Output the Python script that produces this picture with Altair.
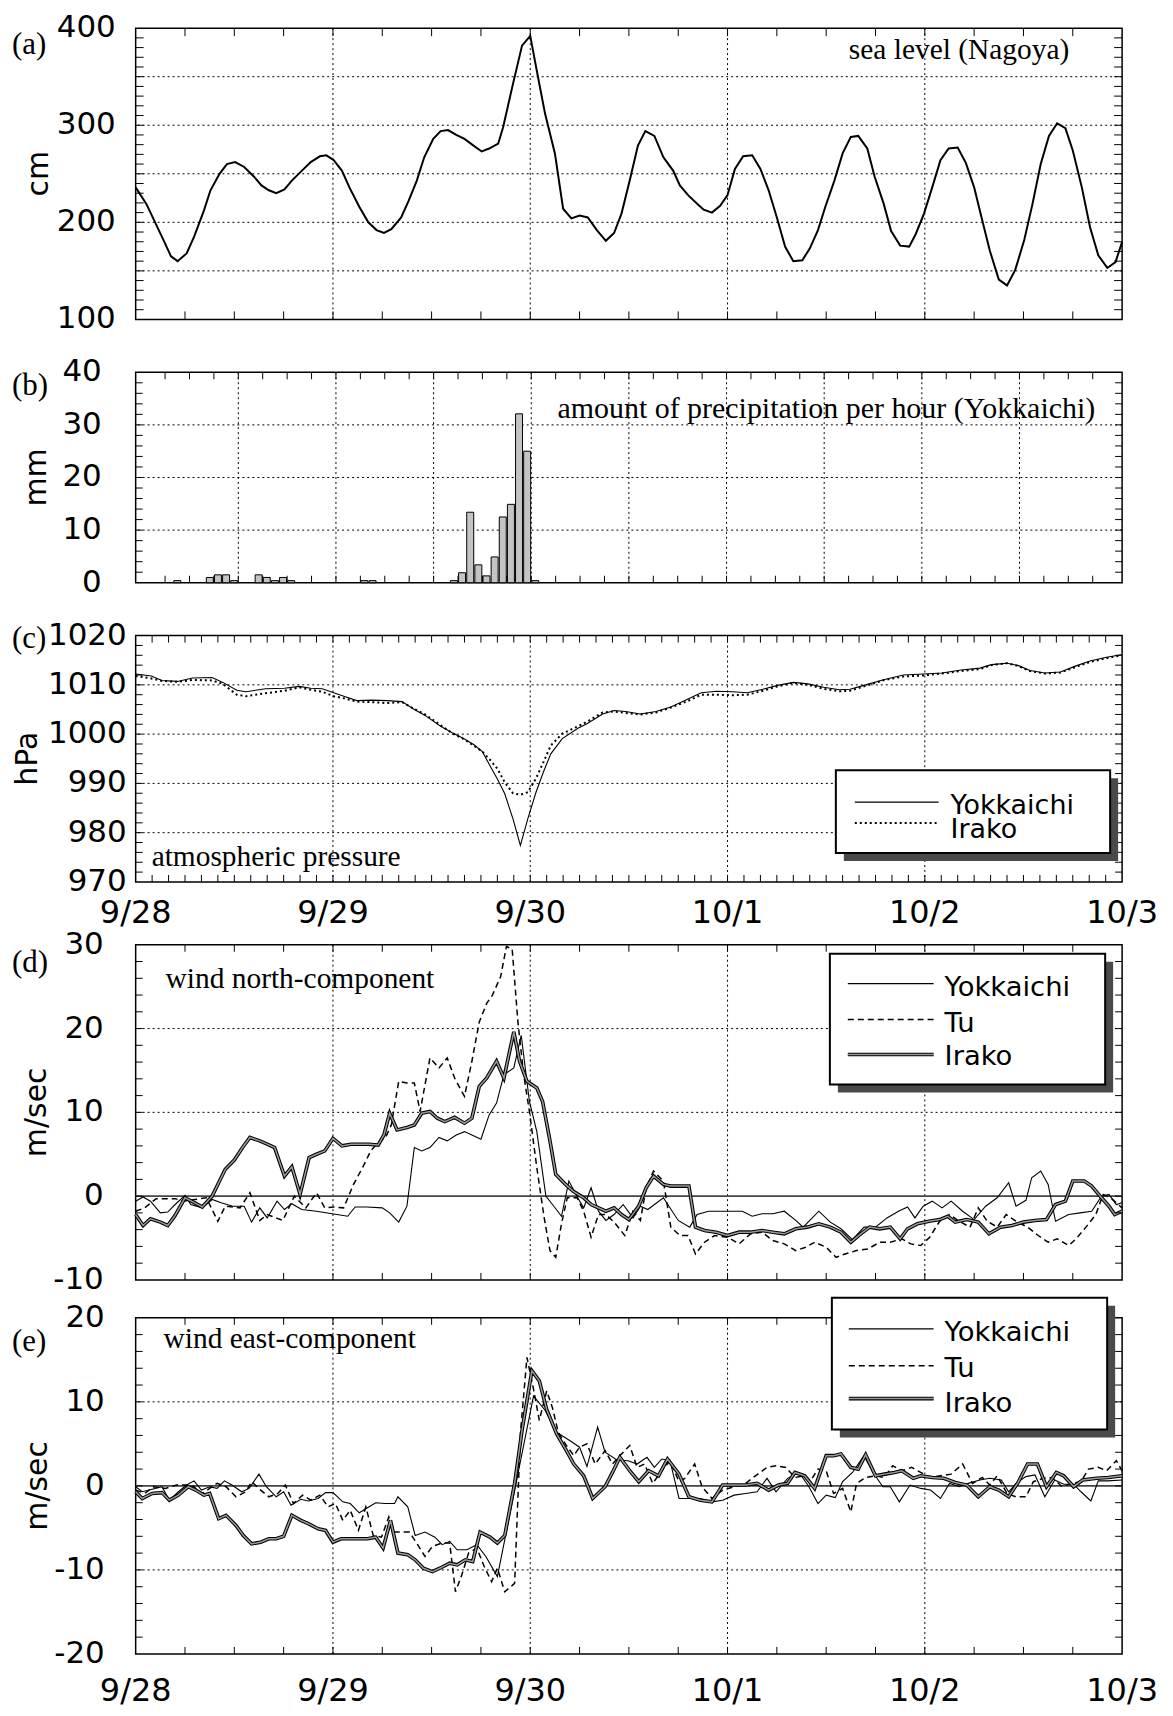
import altair as alt
import pandas as pd

# ---------------- data (hours since 9/28 00:00) ----------------
DAY_HOURS = [0, 24, 48, 72, 96, 120]
DAY_LABELS = ["9/28", "9/29", "9/30", "10/1", "10/2", "10/3"]

# y tick labels of each panel
A_YLAB = [100, 200, 300, 400]
B_YLAB = [0, 10, 20, 30, 40]
C_YLAB = [970, 980, 990, 1000, 1010, 1020]
D_YLAB = [-10, 0, 10, 20, 30]
E_YLAB = [-20, -10, 0, 10, 20]

# (a) sea level, Nagoya [cm]
SL_HOUR = [0, 1.3, 3.2, 4.3, 5.1, 6.2, 7.1, 8.3, 9.1, 10.2, 11.1, 12.1, 13.2, 14.4, 15.3, 16.2, 17.1, 18.1, 19, 20.2,
           21.3, 22.4, 23.2, 24.1, 25.1, 26, 27.2, 28.3, 29.3, 30.2, 31.1, 32.3, 33.2, 34.2, 35.1, 36.2, 37.1, 38, 39, 40,
           41.1, 42.1, 43, 44.1, 44.7, 45.8, 47, 48, 48.8, 49.8, 51, 52, 53, 54, 55, 56.1, 57.2, 58.2, 59.1, 60.1,
           61.1, 62, 63.1, 64.2, 65.4, 66.2, 67.2, 68.2, 69.1, 70.1, 71.1, 72, 72.9, 73.9, 75, 76, 77, 78, 79, 80,
           81.1, 82, 83, 83.9, 85, 86, 87, 87.9, 89, 89.9, 91, 91.9, 93, 94.1, 94.9, 95.9, 96.9, 97.9, 98.9, 100,
           101, 102, 102.9, 103.9, 105, 106, 107, 108.1, 109.1, 110.1, 111.1, 112.1, 113.1, 114, 115.1, 116.1, 117.1,
           118.2, 119.2, 120]
SL_CM = [236, 219, 185, 165, 160, 168, 185, 212, 233, 250, 260, 262, 257, 247, 238, 233, 230, 234, 243, 253,
         262, 268, 269, 264, 253, 236, 216, 200, 192, 189, 193, 205, 222, 243, 267, 286, 294, 295, 290, 286,
         279, 273, 276, 281, 298, 339, 382, 392, 356, 312, 271, 214, 204, 207, 205, 192, 181, 189, 209, 243,
         279, 294, 289, 267, 253, 238, 228, 220, 213, 210, 217, 228, 255, 268, 269, 255, 233, 205, 175, 160,
         161, 173, 192, 216, 243, 271, 288, 289, 276, 247, 219, 191, 176, 175, 188, 209, 236, 264, 276, 277,
         261, 236, 205, 171, 141, 135, 151, 182, 219, 260, 289, 302, 297, 274, 236, 195, 166,
         153, 159, 180]

# (b) hourly precipitation, Yokkaichi [mm]  (hour in which it fell)
PR_HOUR = [4, 8, 9, 10, 11, 14, 15, 16, 17, 18, 27, 28, 38, 39, 40, 41, 42, 43, 44, 45, 46, 47, 48]
PR_MM = [0.4, 1.0, 1.5, 1.5, 0.4, 1.5, 1.0, 0.4, 1.0, 0.4, 0.4, 0.4, 0.4, 1.9, 13.4, 3.4, 1.3, 4.9, 12.5, 14.9,
         32.1, 25.0, 0.4]

# (c) atmospheric pressure [hPa]
P_HOUR = [0.0, 1.9, 3.2, 5.1, 6.9, 9.3, 10.6, 12.3, 13.4, 15.8, 18.1, 19.9, 21.3, 22.7, 24.1, 25.5, 26.9, 28.7, 30.6,
          32.4, 33.8, 35.2, 37.1, 38.5, 39.9, 41.2, 42.2, 43.1, 44.0, 44.9, 45.9, 46.8, 47.7, 48.7, 49.6, 50.5, 51.9,
          53.8, 54.9, 56.8, 58.2, 59.6, 61.4, 63.3, 65.1, 67.0, 68.8, 70.7, 72.6, 74.4, 76.3, 78.1, 80.0, 81.8, 83.7,
          85.6, 86.9, 88.8, 91.1, 93.4, 95.8, 98.1, 100.4, 102.7, 104.1, 106.0, 107.4, 108.8, 110.6, 112.5, 114.3,
          116.2, 118.1, 119.9]
P_YOKKAICHI = [1012.2, 1011.8, 1010.9, 1010.7, 1011.4, 1011.5, 1010.5, 1008.9, 1008.6, 1009.2, 1009.3, 1009.7,
               1009.3, 1009.2, 1008.4, 1007.6, 1006.8, 1006.9, 1006.8, 1006.6, 1005.1, 1003.8, 1001.6, 1000.3, 999.1,
               997.8, 996.4, 993.6, 990.9, 987.9, 982.8, 977.4, 982.8, 988.2, 992.3, 996.0, 999.1, 1001.2, 1002.1,
               1004.1, 1004.8, 1004.6, 1004.1, 1004.6, 1005.5, 1007.0, 1008.4, 1008.7, 1008.6, 1008.4, 1009.1, 1009.9,
               1010.5, 1010.2, 1009.5, 1009.0, 1009.1, 1010.0, 1011.1, 1012.0, 1012.2, 1012.4, 1013.0, 1013.4, 1014.1,
               1014.4, 1013.9, 1012.9, 1012.4, 1012.6, 1013.8, 1014.9, 1015.6, 1016.1]
P_IRAKO = [1011.8, 1011.3, 1010.8, 1010.6, 1011.0, 1010.9, 1010.2, 1008.0, 1007.7, 1008.3, 1008.8, 1009.5, 1009.0,
           1008.6, 1007.7, 1007.2, 1006.6, 1006.5, 1006.3, 1006.5, 1005.2, 1004.0, 1001.8, 1000.2, 999.0, 997.6,
           996.4, 994.8, 993.0, 990.2, 988.0, 987.7, 988.2, 991.0, 994.3, 997.7, 1000.1, 1001.6, 1002.5, 1004.4,
           1004.6, 1004.3, 1004.0, 1004.4, 1005.4, 1006.6, 1008.0, 1008.0, 1007.9, 1008.0, 1008.8, 1009.7, 1010.4,
           1010.0, 1009.2, 1008.7, 1008.8, 1009.8, 1011.0, 1011.7, 1011.9, 1012.3, 1012.8, 1013.2, 1014.0, 1014.4,
           1013.8, 1012.8, 1012.3, 1012.5, 1013.6, 1014.7, 1015.4, 1016.0]

# (d) wind north-component [m/sec]
N_YOK_HOUR = [0.0, 0.9, 1.8, 3.0, 3.9, 4.8, 6.0, 6.7, 8.1, 9.3, 10.4, 11.8, 13.2, 14.1, 15.1, 16.0, 17.2, 18.1, 19.0,
              20.2, 22.0, 23.9, 25.8, 26.7, 28.1, 30.0, 30.9, 32.0, 33.0, 33.9, 34.8, 35.8, 36.9, 37.9, 39.0, 40.0,
              40.9, 42.0, 43.0, 43.9, 44.8, 46.0, 46.9, 47.9, 48.8, 49.9, 50.7, 51.8, 52.7, 53.9, 54.5, 55.4, 56.3,
              57.2, 58.2, 59.3, 60.5, 61.4, 62.3, 64.2, 66.0, 67.4, 68.3, 69.7, 71.0, 72.5, 73.8, 75.0, 76.2, 77.5,
              78.9, 80.3, 81.2, 83.1, 84.5, 85.8, 87.2, 88.6, 90.0, 91.4, 92.8, 93.9, 94.8, 95.8, 96.9, 98.1, 99.2,
              100.6, 102.0, 103.4, 104.8, 106.2, 107.1, 108.3, 109.0, 110.1, 111.0, 111.9, 113.5, 114.9, 116.3,
              117.5, 118.4, 119.3, 120.0]
N_YOK = [-0.6, -0.1, -0.6, -2.0, -1.9, -1.0, 0.1, -1.0, -1.4, -0.4, -0.8, -1.2, -1.2, -3.1, -1.4, -2.6, -0.6, -1.6,
         -0.9, -1.6, -1.8, -2.1, -2.4, -1.3, -1.3, -1.4, -2.0, -3.1, -1.2, 5.8, 5.4, 5.8, 7.0, 6.6, 7.3, 7.7, 7.3,
         6.8, 9.7, 11.1, 14.5, 15.3, 19.2, 11.3, 7.7, 0.0, -1.0, -2.4, 1.8, -0.4, -1.4, 1.0, -1.8, -2.9, -2.2, -1.0,
         -2.6, -1.2, -1.6, -0.2, -2.9, -3.7, -2.2, -1.8, -1.8, -1.8, -1.8, -2.4, -2.1, -2.1, -1.8, -2.9, -3.7, -1.8,
         -3.1, -3.9, -5.2, -3.7, -3.7, -2.6, -1.8, -1.3, -2.6, -1.2, -0.6, -1.4, -0.6, -1.8, -2.8, -1.2, -0.2, 1.6,
         -1.2, -0.5, 2.2, 3.0, 1.4, -3.0, -2.2, -2.0, -1.8, 0.0, 0.2, -1.0, -0.8]
N_TU_HOUR = [0.0, 1.1, 2.5, 3.9, 4.8, 5.8, 7.2, 8.6, 10.0, 10.9, 12.7, 13.9, 15.1, 16.0, 17.9, 19.3, 20.7, 22.0, 23.0,
             24.1, 25.3, 26.5, 27.6, 28.6, 29.5, 30.4, 31.1, 32.0, 33.0, 33.9, 34.6, 35.8, 36.9, 37.9, 38.8, 40.0,
             40.9, 41.8, 42.7, 43.4, 44.4, 45.1, 45.8, 46.5, 47.2, 47.9, 48.8, 49.7, 50.4, 51.1, 51.8, 52.5, 53.7,
             54.5, 55.4, 56.3, 57.2, 58.2, 59.5, 60.5, 61.4, 62.1, 63.0, 64.2, 65.1, 66.2, 67.2, 68.1, 69.2, 70.4,
             72.0, 73.4, 74.8, 76.2, 77.5, 78.9, 80.3, 81.5, 82.6, 84.0, 85.2, 86.3, 87.7, 89.1, 90.5, 91.8, 93.2,
             94.3, 95.5, 96.6, 97.8, 99.0, 100.2, 101.5, 102.5, 103.6, 104.8, 105.9, 107.1, 108.5, 109.8, 111.0,
             112.1, 113.5, 114.4, 115.6, 116.8, 117.7, 118.6, 120.0]
N_TU = [-1.8, -1.4, -0.3, -0.3, -0.3, -0.6, -0.4, -0.2, -3.0, -1.2, -1.4, 0.4, -2.9, -2.2, -2.9, 0.0, -1.4, 0.4,
        -1.4, -1.3, -1.4, 1.4, 3.4, 5.4, 6.4, 7.0, 8.5, 13.7, 13.5, 13.5, 10.1, 16.5, 15.3, 16.5, 14.1, 11.9, 16.1,
        20.8, 23.0, 24.0, 26.2, 29.8, 29.5, 20.8, 14.5, 10.1, 3.4, -2.6, -6.5, -7.3, -3.3, -0.2, -0.2, -1.8, -4.9,
        -2.2, -2.2, -3.1, -4.7, -1.8, -2.9, 1.0, 3.0, 1.8, -3.7, -4.7, -4.7, -6.9, -5.5, -4.7, -4.9, -5.7, -4.5,
        -4.3, -5.3, -5.7, -6.5, -6.1, -5.5, -6.1, -7.3, -6.9, -6.5, -6.3, -5.5, -5.5, -5.1, -5.7, -5.9, -4.9, -3.0,
        -2.2, -3.0, -3.7, -1.4, -3.0, -3.7, -2.2, -3.0, -3.7, -4.7, -5.5, -5.1, -5.9, -5.1, -3.7, -2.2, 0.2, -0.2,
        -1.4]
N_IRA_HOUR = [0.0, 0.9, 1.8, 3.0, 3.9, 4.8, 6.0, 7.2, 8.1, 9.3, 10.2, 10.9, 12.0, 13.0, 13.9, 15.1, 16.0, 16.9, 18.1,
              19.0, 20.0, 21.1, 22.0, 23.0, 24.0, 25.1, 26.2, 27.4, 28.3, 29.5, 30.2, 30.9, 31.8, 33.0, 33.9, 34.8,
              35.8, 36.7, 37.6, 38.8, 40.0, 40.9, 41.8, 42.7, 43.9, 44.8, 46.0, 46.7, 47.6, 48.8, 49.5, 50.4, 51.1,
              52.3, 53.2, 54.5, 55.4, 57.2, 58.2, 59.1, 60.0, 61.2, 62.1, 63.0, 64.2, 65.1, 66.2, 67.3, 68.1, 69.2,
              70.6, 72.0, 73.4, 74.8, 76.2, 77.5, 78.9, 80.3, 81.7, 83.1, 84.5, 85.8, 87.0, 88.2, 89.3, 90.5, 91.8,
              93.0, 93.9, 95.1, 96.5, 97.8, 98.8, 99.7, 101.1, 102.5, 103.8, 105.2, 106.6, 108.0, 109.4, 110.8,
              111.9, 113.1, 114.0, 115.4, 116.3, 117.5, 118.4, 119.1, 120.0]
N_IRA = [-2.2, -3.5, -2.7, -3.1, -3.5, -2.3, -0.2, -0.8, -1.3, 0.0, 1.8, 3.2, 4.3, 5.8, 7.0, 6.6, 6.2, 5.8, 2.4, 3.5,
         0.2, 4.6, 5.0, 5.4, 6.9, 6.0, 6.2, 6.2, 6.2, 6.1, 7.3, 9.9, 7.9, 8.2, 8.5, 9.9, 10.1, 9.3, 8.9, 9.4, 8.7,
         9.3, 13.1, 14.1, 16.1, 14.1, 19.6, 16.1, 13.7, 12.9, 11.3, 6.6, 2.6, 1.4, 0.6, -0.2, -1.0, -1.8, -1.4, -2.2,
         -2.8, -1.2, 1.0, 2.4, 1.4, 1.2, 1.2, 1.2, -3.7, -4.1, -4.3, -4.7, -4.3, -4.3, -4.1, -4.3, -4.5, -3.9, -3.7,
         -3.3, -3.7, -4.3, -5.5, -4.5, -3.7, -3.9, -3.7, -5.1, -3.9, -3.3, -3.0, -2.8, -2.4, -3.1, -2.8, -3.1, -4.5,
         -3.7, -3.5, -3.1, -2.9, -2.8, -1.0, -0.6, 1.8, 1.8, 1.2, -0.2, -1.2, -2.2, -1.8]

# (e) wind east-component [m/sec]
E_YOK_HOUR = [0.0, 0.8, 2.0, 3.2, 4.1, 5.2, 6.2, 7.1, 8.0, 9.0, 9.9, 10.8, 11.7, 12.9, 13.8, 15.0, 15.9, 17.1, 18.0,
              18.9, 20.1, 21.0, 22.2, 23.1, 24.0, 25.2, 26.1, 27.2, 28.2, 29.2, 30.3, 31.5, 31.9, 33.1, 34.0, 35.2,
              36.4, 37.3, 38.2, 39.1, 40.3, 41.5, 42.6, 44.0, 48.4, 49.8, 51.2, 52.8, 54.0, 54.9, 56.2, 57.1, 58.5,
              59.9, 61.0, 62.2, 63.1, 64.0, 65.0, 66.1, 67.3, 68.7, 70.1, 71.4, 72.8, 74.2, 75.6, 76.8, 77.9, 79.3,
              80.7, 81.9, 83.0, 84.0, 85.1, 86.0, 87.2, 88.6, 89.7, 90.9, 91.8, 92.9, 94.2, 95.5, 96.7, 97.9, 99.0,
              100.2, 101.3, 102.7, 103.9, 105.3, 106.2, 107.1, 108.3, 109.4, 110.6, 111.8, 112.9, 114.1, 115.0,
              116.2, 117.1, 118.2, 120.0]
E_YOK = [-0.1, -0.7, -0.4, -0.1, -1.7, -0.7, 0.1, 0.6, -0.5, -0.1, -0.3, 0.6, 0.1, -0.7, -0.3, 1.4, -0.1, -1.3, -0.7,
         -2.3, -1.6, -1.8, -1.5, -0.8, -0.8, -1.9, -2.1, -3.2, -2.6, -2.0, -2.1, -2.1, -1.3, -2.5, -5.9, -5.5, -6.1,
         -7.0, -6.6, -7.6, -7.6, -7.0, -8.4, -10.8, 10.7, 9.0, 6.4, 5.4, 4.6, 2.3, 7.0, 4.0, 3.1, 3.0, 2.6, 3.4,
         2.2, 3.2, 3.0, -1.5, -1.5, -1.5, -1.9, -1.7, -1.1, -0.9, -0.7, 0.9, -0.7, 0.9, 1.6, -0.1, -2.1, -1.1, -1.4,
         0.5, 1.6, 3.6, 1.6, -0.1, -0.1, -1.9, 0.1, -0.3, -0.5, -1.5, 0.3, -0.1, 0.3, 0.7, 0.9, 0.7, -0.7, 0.3, 1.1,
         1.3, -1.3, 0.7, 0.2, 0.2, -0.7, -1.8, 0.6, 0.6, 0.7]
E_TU_HOUR = [0.0, 1.1, 2.2, 3.6, 5.0, 6.2, 7.1, 8.0, 9.0, 9.9, 11.0, 12.2, 13.4, 14.1, 15.2, 16.2, 17.3, 18.2, 19.2,
             20.3, 21.3, 22.4, 23.4, 24.3, 25.2, 26.1, 27.1, 28.0, 28.9, 29.9, 30.8, 31.5, 32.4, 33.3, 34.3, 35.2,
             36.1, 37.3, 38.2, 38.9, 39.6, 40.5, 41.5, 42.4, 43.3, 44.0, 44.9, 46.1, 46.8, 47.6, 48.4, 49.1, 50.0,
             50.7, 51.4, 52.4, 53.3, 54.0, 54.9, 55.9, 57.1, 58.0, 58.9, 60.1, 61.0, 61.9, 62.9, 64.0, 65.0, 66.1,
             66.8, 68.0, 68.9, 70.1, 71.4, 72.8, 74.2, 75.4, 76.8, 77.9, 79.1, 80.2, 81.2, 82.1, 83.0, 84.0, 84.9,
             86.0, 87.0, 87.7, 88.8, 90.0, 91.1, 92.1, 93.2, 94.4, 95.5, 96.7, 97.9, 99.2, 100.6, 101.8, 103.0,
             103.9, 104.8, 106.0, 107.1, 108.3, 109.2, 110.4, 111.5, 112.7, 113.8, 115.0, 115.9, 117.1, 118.1,
             119.3, 120.0]
E_TU = [-0.5, -0.9, -0.1, -0.3, 0.1, 0.1, -0.1, -1.0, -0.3, 0.3, -0.1, -1.3, -0.7, 0.5, -0.5, -1.3, -0.9, 0.1, -2.1,
        -1.1, -1.7, -1.1, -2.5, -2.1, -4.1, -2.9, -5.3, -2.5, -5.9, -6.1, -3.7, -5.5, -5.5, -5.5, -7.0, -8.4, -7.2,
        -6.8, -6.8, -12.6, -10.8, -8.0, -7.4, -9.6, -11.4, -9.8, -12.6, -11.6, 6.2, 15.3, 11.5, 7.8, 11.3, 9.3, 6.4,
        4.8, 3.6, 4.6, 5.0, 2.6, 4.2, 2.6, 3.6, 4.8, 2.2, 2.6, 0.3, 1.8, 3.0, 0.5, 0.9, 2.6, -0.1, -1.5, -0.5, -0.1,
        0.3, 1.2, 2.2, 2.4, 2.2, 1.0, 1.2, 0.6, 2.0, 1.8, -0.9, -0.3, -3.1, 0.3, 1.0, 1.2, 1.0, 2.4, 1.8, 2.2, 1.6,
        1.0, 1.2, 1.4, 2.6, 0.3, 1.0, 0.1, 1.2, -0.9, -1.3, -1.3, 0.5, 0.9, 1.0, -0.1, 0.3, 0.5, 2.0, 2.2, 1.8,
        3.0, 1.8]
E_IRA_HOUR = [0.0, 0.8, 2.0, 3.2, 4.1, 5.2, 6.4, 7.3, 8.3, 9.0, 10.1, 11.0, 12.2, 13.1, 14.1, 15.2, 16.2, 17.1, 18.0,
              19.0, 20.1, 21.0, 22.2, 23.1, 24.0, 25.0, 25.9, 27.1, 28.2, 29.2, 30.1, 31.0, 31.9, 33.1, 34.0, 35.0,
              36.1, 37.0, 38.2, 39.1, 40.1, 41.0, 41.9, 43.1, 44.0, 44.9, 46.1, 47.0, 48.2, 49.1, 50.0, 51.2, 52.4,
              53.3, 54.5, 55.6, 57.1, 58.0, 58.9, 60.1, 61.2, 62.4, 63.6, 64.7, 66.1, 67.3, 68.7, 70.1, 71.4, 72.8,
              74.2, 75.6, 77.0, 78.2, 79.3, 80.2, 81.4, 82.6, 84.0, 84.9, 85.8, 87.0, 87.9, 88.8, 90.0, 91.1, 92.3,
              93.2, 94.6, 95.5, 96.9, 98.3, 99.7, 101.1, 102.5, 103.9, 105.0, 106.2, 107.4, 108.5, 109.7, 110.8,
              112.0, 112.9, 114.1, 115.2, 116.9, 118.3, 120.0]
E_IRA = [-0.7, -1.5, -0.9, -0.8, -1.7, -1.1, -0.1, -0.5, -1.1, -0.9, -3.9, -3.5, -4.7, -5.9, -6.9, -6.7, -6.3, -6.3,
         -6.0, -3.5, -4.1, -4.5, -5.1, -5.3, -6.7, -6.3, -6.3, -6.3, -6.3, -6.1, -7.4, -4.1, -8.0, -8.2, -8.8, -9.8,
         -10.2, -9.8, -9.2, -9.4, -8.8, -9.0, -5.5, -6.1, -6.8, -5.9, 0.3, 6.6, 13.7, 12.5, 9.1, 6.2, 4.2, 2.6, 1.2,
         -1.5, -0.1, 1.6, 3.4, 1.8, 0.5, 1.8, 1.2, 3.2, 1.4, -1.3, -1.7, -1.9, 0.1, 0.1, 0.1, 0.3, -0.5, 0.1, 0.3,
         1.6, 1.2, -0.3, 3.6, 3.6, 3.8, 2.2, 2.0, 3.7, 1.2, 1.4, 1.6, 1.8, 0.9, 1.2, 1.0, 0.9, 0.4, 0.1, -1.3, -0.1,
         -0.5, -1.3, 0.5, 2.6, 2.6, -0.1, 1.6, 1.2, -0.1, 0.7, 0.9, 1.0, 1.2]

# ---------------- styling helpers ----------------
TICKFONT = "DejaVu Sans"
SERIF = "Liberation Serif"
W = 989
X_SCALE = alt.Scale(domain=[0, 120], nice=False, zero=False)
ONE = alt.Data(values=[{"k": 0}])


def xe(field):
    return alt.X(field, type="quantitative", scale=X_SCALE, axis=None)


def ye(field, scale):
    return alt.Y(field, type="quantitative", scale=scale, axis=None)


def grid_layers(xg, yg, yscale):
    kw = dict(color="black", strokeWidth=1, strokeDash=[2, 3])
    return [
        alt.Chart(pd.DataFrame({"g": xg})).mark_rule(**kw).encode(x=xe("g")),
        alt.Chart(pd.DataFrame({"g": yg})).mark_rule(**kw).encode(y=ye("g", yscale)),
    ]


def tick_layers(xt, yt, yscale, H, L=8):
    xdf = pd.DataFrame({"t": xt})
    ydf = pd.DataFrame({"v": yt})
    r = dict(color="black", strokeWidth=1)
    return [
        alt.Chart(xdf).mark_rule(**r).encode(x=xe("t"), y=alt.value(0), y2=alt.value(L)),
        alt.Chart(xdf).mark_rule(**r).encode(x=xe("t"), y=alt.value(H - L), y2=alt.value(H)),
        alt.Chart(ydf).mark_rule(**r).encode(y=ye("v", yscale), x=alt.value(0), x2=alt.value(L)),
        alt.Chart(ydf).mark_rule(**r).encode(y=ye("v", yscale), x=alt.value(W - L), x2=alt.value(W)),
    ]


def ylabel_layers(vals, yscale, pad, title, title_x, H):
    df = pd.DataFrame({"v": vals, "lab": [str(v) for v in vals]})
    return [
        alt.Chart(df).mark_text(font=TICKFONT, fontSize=31, align="right", baseline="middle",
                                color="black").encode(y=ye("v", yscale), x=alt.value(-pad), text="lab:N"),
        alt.Chart(ONE).mark_text(font=TICKFONT, fontSize=30, angle=270, align="center", baseline="middle",
                                 color="black").encode(x=alt.value(title_x), y=alt.value(H / 2),
                                                       text=alt.value(title)),
    ]


def xlabel_layer(H, off):
    df = pd.DataFrame({"h": DAY_HOURS, "lab": DAY_LABELS})
    return alt.Chart(df).mark_text(font=TICKFONT, fontSize=32, align="center", baseline="top",
                                   color="black").encode(x=xe("h"), y=alt.value(H + off), text="lab:N")


def line_layer(hours, vals, yscale, style):
    df = pd.DataFrame({"hour": hours, "v": vals})
    enc = dict(x=xe("hour"), y=ye("v", yscale))
    if style == "thick":
        return [alt.Chart(df).mark_line(color="black", strokeWidth=3.6).encode(**enc),
                alt.Chart(df).mark_line(color="#9a9a9a", strokeWidth=1.5).encode(**enc)]
    if style == "dash":
        return [alt.Chart(df).mark_line(color="black", strokeWidth=1.5, strokeDash=[6, 4]).encode(**enc)]
    if style == "dot":
        return [alt.Chart(df).mark_line(color="black", strokeWidth=2, strokeDash=[2, 3]).encode(**enc)]
    if style == "bold":
        return [alt.Chart(df).mark_line(color="black", strokeWidth=2).encode(**enc)]
    return [alt.Chart(df).mark_line(color="black", strokeWidth=1.1).encode(**enc)]


def text_layer(txt, x, y, font=SERIF, size=29.5, align="left", baseline="alphabetic"):
    return alt.Chart(ONE).mark_text(font=font, fontSize=size, align=align, baseline=baseline,
                                    color="black").encode(x=alt.value(x), y=alt.value(y), text=alt.value(txt))


def legend_layers(x0, x1, y0, y1, entries, lx0, lx1, tx, size=27.5):
    out = [
        alt.Chart(ONE).mark_rect(fill="#4a4a4a").encode(
            x=alt.value(x0 + 8), x2=alt.value(x1 + 8), y=alt.value(y0 + 8), y2=alt.value(y1 + 8)),
        alt.Chart(ONE).mark_rect(fill="white", stroke="black", strokeWidth=2).encode(
            x=alt.value(x0), x2=alt.value(x1), y=alt.value(y0), y2=alt.value(y1)),
    ]
    for label, style, ly, ty in entries:
        pos = dict(x=alt.value(lx0), x2=alt.value(lx1), y=alt.value(ly))
        if style == "thick":
            out.append(alt.Chart(ONE).mark_rule(color="black", strokeWidth=3.6).encode(**pos))
            out.append(alt.Chart(ONE).mark_rule(color="#9a9a9a", strokeWidth=1.5).encode(**pos))
        else:
            kw = dict(color="black", strokeWidth=1.2)
            if style == "dash":
                kw.update(strokeDash=[6, 4], strokeWidth=1.5)
            if style == "dot":
                kw.update(strokeDash=[2, 3], strokeWidth=2)
            out.append(alt.Chart(ONE).mark_rule(**kw).encode(**pos))
        out.append(text_layer(label, tx, ty, font=TICKFONT, size=size))
    return out


def zero_layer(yscale):
    return alt.Chart(pd.DataFrame({"z": [0]})).mark_rule(color="#444444", strokeWidth=1.6).encode(
        y=ye("z", yscale))


INNER_DAYS = [24, 48, 72, 96]
PANEL_X = -124

# ---------------- (a) sea level ----------------
HA = 292
YA = alt.Scale(domain=[100, 400], nice=False, zero=False)
panel_a = alt.layer(
    *grid_layers(INNER_DAYS, [150, 200, 250, 300, 350], YA),
    *line_layer(SL_HOUR, SL_CM, YA, "bold"),
    *tick_layers(list(range(6, 120, 6)), list(range(110, 400, 10)), YA, HA),
    *ylabel_layers(A_YLAB, YA, 20, "cm", -97, HA),
    text_layer("sea level (Nagoya)", 936, 31, align="right"),
    text_layer("(a)", PANEL_X, 17, size=31, baseline="middle"),
).properties(width=W, height=HA)

# ---------------- (b) precipitation ----------------
HB = 211
YB = alt.Scale(domain=[0, 40], nice=False, zero=True)
pr_df = pd.DataFrame({"hour": PR_HOUR, "mm": PR_MM})
bars = alt.Chart(pr_df).transform_calculate(mid="datum.hour + 0.5").mark_bar(
    size=7, fill="#c4c4c4", stroke="black", strokeWidth=1).encode(x=xe("mid"), y=ye("mm", YB))
panel_b = alt.layer(
    *grid_layers(list(range(12, 120, 12)), [10, 20, 30], YB),
    bars,
    *tick_layers(list(range(3, 120, 3)), list(range(2, 40, 2)), YB, HB, L=7),
    *ylabel_layers(B_YLAB, YB, 34, "mm", -99, HB),
    text_layer("amount of precipitation per hour (Yokkaichi)", 962, 46, size=30, align="right"),
    text_layer("(b)", PANEL_X, 14, size=31, baseline="middle"),
).properties(width=W, height=HB)

# ---------------- (c) pressure ----------------
HC = 247
YC = alt.Scale(domain=[970, 1020], nice=False, zero=False)
panel_c = alt.layer(
    *grid_layers(INNER_DAYS, [980, 990, 1000, 1010], YC),
    *line_layer(P_HOUR, P_YOKKAICHI, YC, "solid"),
    *line_layer(P_HOUR, P_IRAKO, YC, "dot"),
    *tick_layers(list(range(2, 120, 2)), list(range(972, 1020, 2)), YC, HC, L=7),
    *ylabel_layers(C_YLAB, YC, 9, "hPa", -108, HC),
    xlabel_layer(HC, 16),
    *legend_layers(702, 977, 135, 218,
                   [("Yokkaichi", "solid", 167, 179), ("Irako", "dot", 188, 203)], 721, 805, 817, size=27),
    text_layer("atmospheric pressure", 16, 231),
    text_layer("(c)", PANEL_X, 3, size=31, baseline="middle"),
).properties(width=W, height=HC)

# ---------------- (d) wind north ----------------
HD = 336
YD = alt.Scale(domain=[-10, 30], nice=False, zero=False)
panel_d = alt.layer(
    *grid_layers(INNER_DAYS, [10, 20], YD),
    zero_layer(YD),
    *line_layer(N_YOK_HOUR, N_YOK, YD, "solid"),
    *line_layer(N_TU_HOUR, N_TU, YD, "dash"),
    *line_layer(N_IRA_HOUR, N_IRA, YD, "thick"),
    *tick_layers(list(range(6, 120, 6)), list(range(-8, 30, 2)), YD, HD, L=7),
    *ylabel_layers(D_YLAB, YD, 32, "m/sec", -99, HD),
    *legend_layers(696, 972, 9, 140,
                   [("Yokkaichi", "solid", 39, 51), ("Tu", "dash", 75, 87), ("Irako", "thick", 110, 121)],
                   714, 800, 811),
    text_layer("wind north-component", 30, 43),
    text_layer("(d)", PANEL_X, 18, size=31, baseline="middle"),
).properties(width=W, height=HD)

# ---------------- (e) wind east ----------------
HE = 337
YE = alt.Scale(domain=[-20, 20], nice=False, zero=False)
panel_e = alt.layer(
    *grid_layers(INNER_DAYS, [-10, 10], YE),
    zero_layer(YE),
    *line_layer(E_YOK_HOUR, E_YOK, YE, "solid"),
    *line_layer(E_TU_HOUR, E_TU, YE, "dash"),
    *line_layer(E_IRA_HOUR, E_IRA, YE, "thick"),
    *tick_layers(list(range(6, 120, 6)), list(range(-18, 20, 2)), YE, HE, L=7),
    *ylabel_layers(E_YLAB, YE, 31, "m/sec", -98, HE),
    xlabel_layer(HE, 22),
    *legend_layers(698, 974, -20, 112,
                   [("Yokkaichi", "solid", 11, 23), ("Tu", "dash", 48, 59), ("Irako", "thick", 81, 94)],
                   715, 800, 811),
    text_layer("wind east-component", 28, 30),
    text_layer("(e)", PANEL_X, 24, size=31, baseline="middle"),
).properties(width=W, height=HE)


def spacer(h):
    return alt.Chart(alt.Data(values=[{"s": 0}])).mark_point(opacity=0).encode(
        x=alt.X("s:Q", axis=None), y=alt.Y("s:Q", axis=None)
    ).properties(width=W, height=h, view=alt.ViewBackground(stroke="transparent", strokeWidth=0))


chart = alt.vconcat(
    panel_a, spacer(53), panel_b, spacer(53), panel_c, spacer(63), panel_d, spacer(38), panel_e,
    spacing=0, bounds="flush",
).properties(
    padding={"left": 3, "top": 1, "right": 6, "bottom": 6}, background="white"
).configure_view(
    stroke="black", strokeWidth=1.5
)

chart.save("out.html", embed_options={"renderer": "svg", "actions": False})
